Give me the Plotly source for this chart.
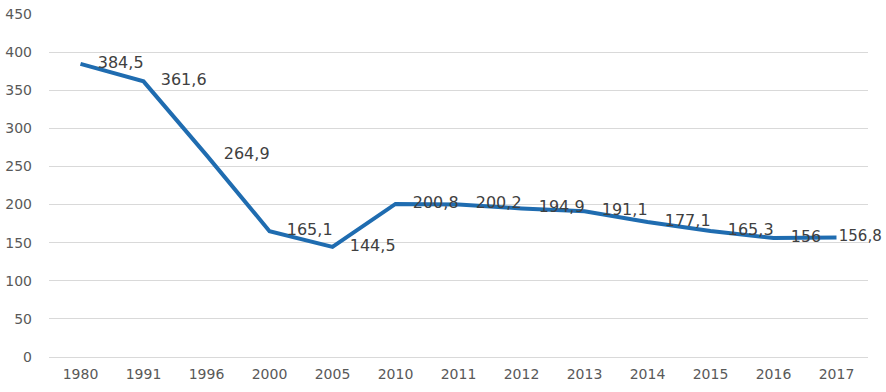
import plotly.graph_objects as go

years = ["1980", "1991", "1996", "2000", "2005", "2010", "2011", "2012", "2013", "2014", "2015", "2016", "2017"]
values = [384.5, 361.6, 264.9, 165.1, 144.5, 200.8, 200.2, 194.9, 191.1, 177.1, 165.3, 156, 156.8]
labels = [("%g" % v).replace(".", ",") for v in values]
y_ticks = [0, 50, 100, 150, 200, 250, 300, 350, 400, 450]

FONT = "DejaVu Sans"
n = len(values)
marker_sizes = [26] * (n - 1) + [2]
label_sizes = [16] * (n - 1) + [15]

fig = go.Figure()
fig.add_trace(go.Scatter(
    x=years, y=values, mode="lines+markers+text",
    line=dict(color="#1f6cb0", width=4),
    marker=dict(size=marker_sizes, color="rgba(0,0,0,0)",
                line=dict(width=0, color="rgba(0,0,0,0)")),
    text=labels, textposition="middle right",
    textfont=dict(family=FONT, size=label_sizes, color="#404040"),
    cliponaxis=False, hoverinfo="skip", showlegend=False,
))
fig.update_layout(
    width=886, height=392,
    margin=dict(l=49, r=18, t=14, b=35),
    paper_bgcolor="white", plot_bgcolor="white",
    font=dict(family=FONT, size=14, color="#595959"),
)
fig.update_xaxes(type="category", range=[-0.5, 12.5], showgrid=False, showline=False, ticks="",
                 automargin=False, tickfont=dict(family=FONT, size=14, color="#595959"),
                 ticklabelstandoff=7)
fig.update_yaxes(range=[0, 450], tickvals=y_ticks, showgrid=True, gridcolor="#d9d9d9",
                 gridwidth=1, zeroline=True, zerolinecolor="#d9d9d9", zerolinewidth=1,
                 showline=False, ticks="", automargin=False,
                 tickfont=dict(family=FONT, size=14, color="#595959"), ticklabelstandoff=16)
fig.write_html("out.html", config={"displayModeBar": False},
               post_script="document.body.style.margin='0';")
